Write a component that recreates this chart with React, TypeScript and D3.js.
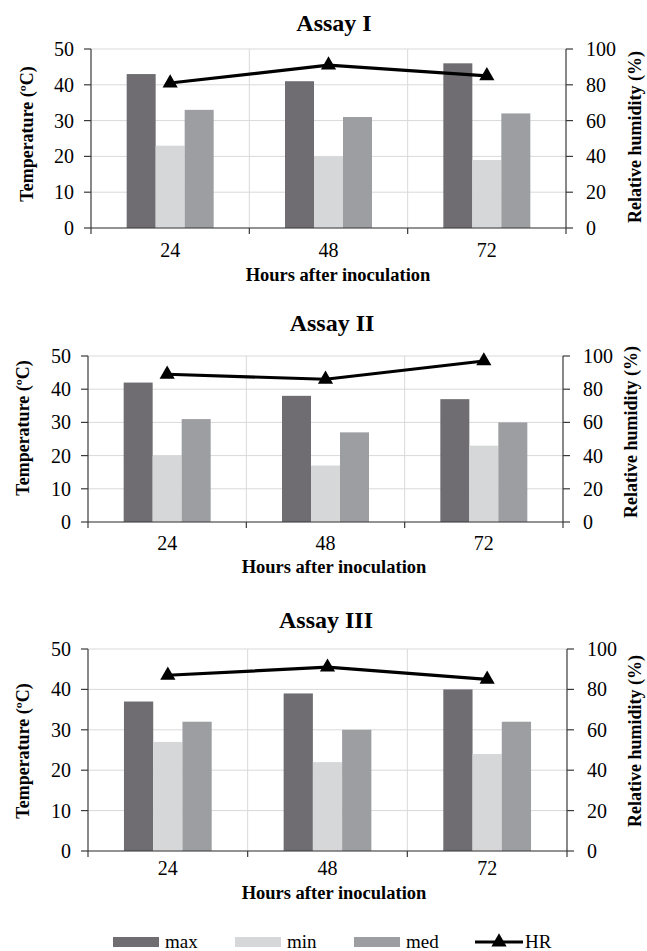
import React from 'react';
import * as d3 from 'd3';

// Air temperature and relative humidity during the three assays
const hours = ['24', '48', '72'];
const seriesKeys = ['max', 'min', 'med'];
const assayTitles = ['Assay I', 'Assay II', 'Assay III'];

const maxI = [43, 41, 46];
const minI = [23, 20, 19];
const medI = [33, 31, 32];
const hrI = [81, 91, 85];

const maxII = [42, 38, 37];
const minII = [20, 17, 23];
const medII = [31, 27, 30];
const hrII = [89, 86, 97];

const maxIII = [37, 39, 40];
const minIII = [27, 22, 24];
const medIII = [32, 30, 32];
const hrIII = [87, 91, 85];

const tempTicks = [0, 10, 20, 30, 40, 50];
const rhTicks = [0, 20, 40, 60, 80, 100];

const colors: Record<string, string> = {
  max: '#6f6d72',
  min: '#d6d7d8',
  med: '#9c9ea1',
};

const FONT = '"Liberation Serif", "Times New Roman", serif';

interface Layout {
  left: number; right: number; top: number; bottom: number;
  titleX: number; titleY: number;
  xTickY: number; xLabelX: number; xLabelY: number;
  leftTitleX: number; leftTitleY: number;
  rightTitleX: number; rightTitleY: number;
}

const layouts: Layout[] = [
  { left: 91, right: 566, top: 49, bottom: 228, titleX: 334, titleY: 23, xTickY: 250, xLabelX: 338, xLabelY: 275, leftTitleX: 27, leftTitleY: 134, rightTitleX: 635, rightTitleY: 137 },
  { left: 88, right: 563, top: 356, bottom: 522, titleX: 332, titleY: 323, xTickY: 543, xLabelX: 334, xLabelY: 567, leftTitleX: 23, leftTitleY: 428, rightTitleX: 631, rightTitleY: 432 },
  { left: 88, right: 567, top: 649, bottom: 851, titleX: 326, titleY: 620, xTickY: 868, xLabelX: 334, xLabelY: 893, leftTitleX: 23, leftTitleY: 751, rightTitleX: 635, rightTitleY: 741 },
];

const panelData = [
  { max: maxI, min: minI, med: medI, hr: hrI },
  { max: maxII, min: minII, med: medII, hr: hrII },
  { max: maxIII, min: minIII, med: medIII, hr: hrIII },
];

const triangle = d3.symbol().type(d3.symbolTriangle).size(100)()!;

function Panel({ title, data, lay }: { title: string; data: Record<string, number[]>; lay: Layout }) {
  const x0 = d3.scaleBand<string>().domain(hours).range([lay.left, lay.right]);
  const x1 = d3.scaleBand<string>().domain(seriesKeys).range([0, x0.bandwidth()]).paddingOuter(1.23);
  const yT = d3.scaleLinear().domain([0, 50]).range([lay.bottom, lay.top]);
  const yH = d3.scaleLinear().domain([0, 100]).range([lay.bottom, lay.top]);

  const hrLine = d3.line<number>()
    .x((_, i) => x0(hours[i])! + x0.bandwidth() / 2)
    .y(d => yH(d));

  const bounds = [...hours.map(h => x0(h)!), lay.right];

  return (
    <g>
      <text x={lay.titleX} y={lay.titleY} textAnchor="middle" dominantBaseline="central"
        fontFamily={FONT} fontWeight="bold" fontSize={24}>{title}</text>

      {/* gridlines */}
      {tempTicks.map(t => (
        <line key={'h' + t} x1={lay.left} x2={lay.right} y1={yT(t)} y2={yT(t)} stroke="#d9d9d9" strokeWidth={1} />
      ))}
      {bounds.slice(1, -1).map((b, i) => (
        <line key={'v' + i} x1={b} x2={b} y1={lay.top} y2={lay.bottom} stroke="#d9d9d9" strokeWidth={1} />
      ))}

      {/* bars */}
      {hours.map((h, i) => (
        <g key={h} transform={`translate(${x0(h)},0)`}>
          {seriesKeys.map(k => (
            <rect key={k} x={x1(k)} width={x1.bandwidth()} y={yT(data[k][i])}
              height={yT(0) - yT(data[k][i])} fill={colors[k]} />
          ))}
        </g>
      ))}

      {/* axes */}
      <line x1={lay.left} x2={lay.left} y1={lay.top} y2={lay.bottom} stroke="#3a3a3a" strokeWidth={1.2} />
      <line x1={lay.right} x2={lay.right} y1={lay.top} y2={lay.bottom} stroke="#3a3a3a" strokeWidth={1.2} />
      <line x1={lay.left} x2={lay.right} y1={lay.bottom} y2={lay.bottom} stroke="#3a3a3a" strokeWidth={1.2} />
      {tempTicks.map(t => (
        <g key={'lt' + t}>
          <line x1={lay.left - 7} x2={lay.left} y1={yT(t)} y2={yT(t)} stroke="#3a3a3a" strokeWidth={1.2} />
          <text x={lay.left - 17} y={yT(t)} textAnchor="end" dominantBaseline="central"
            fontFamily={FONT} fontSize={20}>{t}</text>
        </g>
      ))}
      {rhTicks.map(t => (
        <g key={'rt' + t}>
          <line x1={lay.right} x2={lay.right + 7} y1={yH(t)} y2={yH(t)} stroke="#3a3a3a" strokeWidth={1.2} />
          <text x={lay.right + 20} y={yH(t)} textAnchor="start" dominantBaseline="central"
            fontFamily={FONT} fontSize={20}>{t}</text>
        </g>
      ))}
      {bounds.map((b, i) => (
        <line key={'xt' + i} x1={b} x2={b} y1={lay.bottom} y2={lay.bottom + 6} stroke="#3a3a3a" strokeWidth={1.2} />
      ))}
      {hours.map(h => (
        <text key={'xl' + h} x={x0(h)! + x0.bandwidth() / 2} y={lay.xTickY} textAnchor="middle"
          dominantBaseline="central" fontFamily={FONT} fontSize={20}>{h}</text>
      ))}

      <text x={lay.xLabelX} y={lay.xLabelY} textAnchor="middle" dominantBaseline="central"
        fontFamily={FONT} fontWeight="bold" fontSize={18.5}>Hours after inoculation</text>
      <text transform={`translate(${lay.leftTitleX},${lay.leftTitleY}) rotate(-90)`} textAnchor="middle"
        dominantBaseline="central" fontFamily={FONT} fontWeight="bold" fontSize={18}>Temperature (ºC)</text>
      <text transform={`translate(${lay.rightTitleX},${lay.rightTitleY}) rotate(-90)`} textAnchor="middle"
        dominantBaseline="central" fontFamily={FONT} fontWeight="bold" fontSize={18}>Relative humidity (%)</text>

      {/* HR line */}
      <path d={hrLine(data.hr)!} fill="none" stroke="#000" strokeWidth={3.2} />
      {data.hr.map((v, i) => (
        <path key={'m' + i} d={triangle} fill="#000"
          transform={`translate(${x0(hours[i])! + x0.bandwidth() / 2},${yH(v)})`} />
      ))}
    </g>
  );
}

function Legend() {
  const items = [
    { key: 'max', x: 113 },
    { key: 'min', x: 235 },
    { key: 'med', x: 354 },
  ];
  const cy = 942;
  return (
    <g>
      {items.map(it => (
        <g key={it.key}>
          <rect x={it.x} y={cy - 5} width={46} height={10} fill={colors[it.key]} />
          <text x={it.x + 52} y={cy + 6} fontFamily={FONT} fontSize={19}>{it.key}</text>
        </g>
      ))}
      <line x1={475} x2={523} y1={cy} y2={cy} stroke="#000" strokeWidth={3.2} />
      <path d={triangle} fill="#000" transform={`translate(499,${cy})`} />
      <text x={525} y={cy + 6} fontFamily={FONT} fontSize={19}>HR</text>
    </g>
  );
}

export default function App() {
  return (
    <svg width={647} height={951} style={{ position: 'absolute', left: 0, top: 0, background: '#fff' }}>
      <rect width={647} height={951} fill="#fff" />
      {layouts.map((lay, i) => (
        <Panel key={i} title={assayTitles[i]} data={panelData[i]} lay={lay} />
      ))}
      <Legend />
    </svg>
  );
}
